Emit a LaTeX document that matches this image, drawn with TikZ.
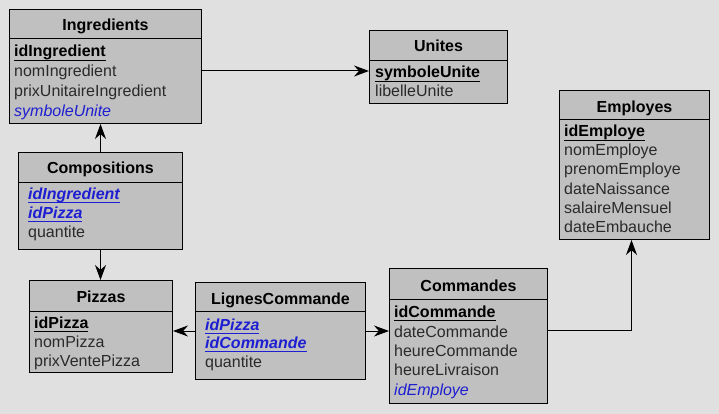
\documentclass[tikz,border=0pt]{standalone}
\usepackage{fontspec}
\setmainfont{Liberation Sans}
\usetikzlibrary{arrows.meta}
\definecolor{bgGrey}{HTML}{E0E0E0}
\definecolor{boxGrey}{HTML}{C0C0C0}
\definecolor{fkBlue}{HTML}{1E1ED2}
\definecolor{attrGrey}{HTML}{2A2A2A}
\newcommand{\keyUnder}[1]{\setbox0\hbox{#1}\rlap{\rule[-4pt]{\wd0}{1.3pt}}\box0}

\begin{document}
\begin{tikzpicture}[x=1pt, y=-1pt,
    table/.style={draw=black, line width=1pt, fill=boxGrey, anchor=north west, inner sep=0pt},
    title/.style={font=\fontsize{16}{20}\selectfont\bfseries, text height=14pt, text depth=0pt, inner sep=0pt},
    attr/.style={font=\fontsize{16}{20}\selectfont, text=attrGrey, anchor=west, text height=14pt, text depth=0pt, inner sep=0pt},
    pk/.style={attr, text=black, font=\fontsize{16}{20}\selectfont\bfseries},
    fk/.style={attr, text=fkBlue, font=\fontsize{16}{20}\selectfont\itshape},
    pkfk/.style={attr, text=fkBlue, font=\fontsize{16}{20}\selectfont\bfseries\itshape},
    link/.style={line width=1pt, -{Stealth[length=15pt, width=11pt]}}]
\useasboundingbox[fill=bgGrey] (0,0) rectangle (719,414);

% Ingredients
\node[table, minimum width=192pt, minimum height=114pt] (ingredients) at (9,9) {};
\draw[line width=1pt] ([yshift=-30pt]ingredients.north west) -- ([yshift=-30pt]ingredients.north east);
\node[title] (ingredientsTitle) at ([yshift=-15pt]ingredients.north) {Ingredients};
\node[pk] (idIngredient) at (14,50) {\keyUnder{idIngredient}};
\node[attr] (nomIngredient) at (14,70) {nomIngredient};
\node[attr] (prixUnitaireIngredient) at (14,90) {prixUnitaireIngredient};
\node[fk] (ingredientSymbole) at (14,110) {symboleUnite};

% Unites
\node[table, minimum width=138pt, minimum height=73pt] (unites) at (369,30) {};
\draw[line width=1pt] ([yshift=-31pt]unites.north west) -- ([yshift=-31pt]unites.north east);
\node[title] (unitesTitle) at ([yshift=-15pt]unites.north) {Unites};
\node[pk] (symboleUnite) at (375,71) {\keyUnder{symboleUnite}};
\node[attr] (libelleUnite) at (375,90) {libelleUnite};

% Employes
\node[table, minimum width=150pt, minimum height=149pt] (employes) at (559,90) {};
\draw[line width=1pt] ([yshift=-30pt]employes.north west) -- ([yshift=-30pt]employes.north east);
\node[title] (employesTitle) at ([yshift=-16pt]employes.north) {Employes};
\node[pk] (idEmploye) at (564,130) {\keyUnder{idEmploye}};
\node[attr] (nomEmploye) at (564,149) {nomEmploye};
\node[attr] (prenomEmploye) at (564,168) {prenomEmploye};
\node[attr] (dateNaissance) at (564,187) {dateNaissance};
\node[attr] (salaireMensuel) at (564,206) {salaireMensuel};
\node[attr] (dateEmbauche) at (564,225) {dateEmbauche};

% Compositions
\node[table, minimum width=164pt, minimum height=97pt] (compositions) at (18,152) {};
\draw[line width=1pt] ([yshift=-30pt]compositions.north west) -- ([yshift=-30pt]compositions.north east);
\node[title] (compositionsTitle) at ([yshift=-14pt]compositions.north) {Compositions};
\node[pkfk] (compIngredient) at (28,192) {\keyUnder{idIngredient}};
\node[pkfk] (compPizza) at (28,211) {\keyUnder{idPizza}};
\node[attr] (compQuantite) at (28,230) {quantite};

% Pizzas
\node[table, minimum width=143pt, minimum height=92pt] (pizzas) at (29,280) {};
\draw[line width=1pt] ([yshift=-31pt]pizzas.north west) -- ([yshift=-31pt]pizzas.north east);
\node[title] (pizzasTitle) at ([yshift=-15pt]pizzas.north) {Pizzas};
\node[pk] (idPizza) at (34,321) {\keyUnder{idPizza}};
\node[attr] (nomPizza) at (34,340) {nomPizza};
\node[attr] (prixVentePizza) at (34,359) {prixVentePizza};

% LignesCommande
\node[table, minimum width=170pt, minimum height=97pt] (lignesCommande) at (195,282) {};
\draw[line width=1pt] ([yshift=-29pt]lignesCommande.north west) -- ([yshift=-29pt]lignesCommande.north east);
\node[title] (lignesTitle) at ([yshift=-15pt]lignesCommande.north) {LignesCommande};
\node[pkfk] (lignePizza) at (205,323) {\keyUnder{idPizza}};
\node[pkfk] (ligneCommande) at (205,341) {\keyUnder{idCommande}};
\node[attr] (ligneQuantite) at (205,360) {quantite};

% Commandes
\node[table, minimum width=158pt, minimum height=135pt] (commandes) at (389,268) {};
\draw[line width=1pt] ([yshift=-31pt]commandes.north west) -- ([yshift=-31pt]commandes.north east);
\node[title] (commandesTitle) at ([yshift=-16pt]commandes.north) {Commandes};
\node[pk] (idCommande) at (394,310) {\keyUnder{idCommande}};
\node[attr] (dateCommande) at (394,330) {dateCommande};
\node[attr] (heureCommande) at (394,349) {heureCommande};
\node[attr] (heureLivraison) at (394,368) {heureLivraison};
\node[fk] (commandeEmploye) at (394,388) {idEmploye};

% links
\draw[link] (ingredients.east |- symboleUnite) -- (unites.west |- symboleUnite);
\draw[link] (compositions.north) -- (ingredients.south -| compositions.north);
\draw[link] (compositions.south) -- (pizzas.north -| compositions.south);
\draw[link] (lignesCommande.west) -- (pizzas.east |- lignesCommande.west);
\draw[link] (lignesCommande.east) -- (commandes.west |- lignesCommande.east);
\draw[link] (commandes.east |- dateCommande) -| ([xshift=-3pt]employes.south);

\end{tikzpicture}
\end{document}
